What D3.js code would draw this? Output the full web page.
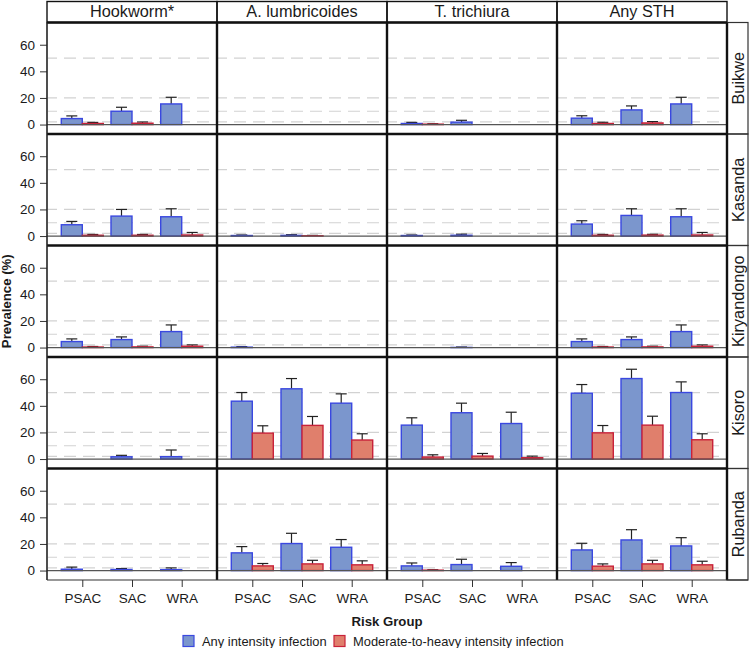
<!DOCTYPE html>
<html>
<head>
<meta charset="utf-8">
<script src="https://cdnjs.cloudflare.com/ajax/libs/d3/7.8.5/d3.min.js"></script>
<style>
  html, body { margin: 0; padding: 0; background: #fff; }
  svg { display: block; }
  text { font-family: "Liberation Sans", Arial, sans-serif; fill: #1a1a1a; }
</style>
</head>
<body>
<svg id="chart" width="750" height="648"></svg>
<script>
var species = ['Hookworm*', 'A. lumbricoides', 'T. trichiura', 'Any STH'];
var districts = ['Buikwe', 'Kasanda', 'Kiryandongo', 'Kisoro', 'Rubanda'];
var groups = ['PSAC', 'SAC', 'WRA'];
var seriesNames = ['Any intensity infection', 'Moderate-to-heavy intensity infection'];
var yTicks = [0, 20, 40, 60];
var refLines = [2, 10, 20, 50];

// all four indexed [district][species][group], null = no bar drawn
var anyPrev = [
  [[4.5, 10, 15.5], [null, null, null], [0.8, 1.8, null], [4.8, 11, 15.5]],
  [[8.5, 15, 14.5], [0.4, 0.5, null], [0.4, 0.6, null], [9, 15.5, 14.5]],
  [[4.5, 6, 12], [0.3, null, null], [null, 0.1, null], [4.5, 6, 12]],
  [[null, 1.7, 1.8], [43.5, 52.8, 42], [25.5, 34.8, 26.7], [49.5, 60.5, 50]],
  [[1, 0.8, 0.7], [13.3, 20.3, 17.5], [3.5, 4.5, 3.2], [15.5, 23, 18.5]]
];
var anyUpper = [
  [[6.5, 13, 20.5], [null, null, null], [1.6, 3.2, null], [6.6, 14, 20.5]],
  [[11, 20, 20.5], [0.8, 1, null], [0.8, 1.4, null], [11.5, 20.5, 20.5]],
  [[6.5, 8, 17], [0.7, null, null], [null, 0.4, null], [6.5, 8, 17]],
  [[null, 2.8, 6.8], [50, 60.5, 49], [31, 42, 35.2], [56, 67.5, 58]],
  [[2.6, 1.5, 2], [18, 28, 23.3], [5.7, 8.5, 6], [20.5, 30.7, 24.7]]
];
var modPrev = [
  [[0.8, 1, null], [null, null, null], [0.3, null, null], [0.8, 1.2, null]],
  [[0.6, 0.6, 0.8], [null, 0.2, null], [null, null, null], [0.6, 0.7, 0.8]],
  [[0.4, 0.5, 1], [null, null, null], [null, null, null], [0.4, 0.5, 1]],
  [[null, null, null], [19.5, 25.3, 14.3], [1.5, 2.2, 1], [19.7, 25.5, 14.5]],
  [[null, null, null], [3.5, 5, 4.3], [0.3, null, null], [3.3, 5, 4.3]]
];
var modUpper = [
  [[1.6, 1.9, null], [null, null, null], [0.6, null, null], [1.7, 2.2, null]],
  [[1.2, 1.2, 2.7], [null, 0.5, null], [null, null, null], [1.2, 1.3, 2.7]],
  [[0.8, 1, 2], [null, null, null], [null, null, null], [0.8, 1, 2]],
  [[null, null, null], [25, 32, 19], [3.2, 4.2, 2.2], [25.2, 32.2, 19]],
  [[null, null, null], [5.3, 7.7, 7.3], [0.6, null, null], [5, 7.7, 7]]
];

var colors = ['#7b96cd', '#e07f6c'];
var strokes = ['#3a48e0', '#c8223a'];

var svg = d3.select('#chart');

var plotLeft = 47, plotRight = 727, plotTop = 22.5, rowH = 111.5;
var stripTop = 1.5, stripRight = 748;
var colW = (plotRight - plotLeft) / species.length;
var plotBottom = plotTop + rowH * districts.length;

var col = d3.scaleBand().domain(species).range([plotLeft, plotRight]);
var row = d3.scaleBand().domain(districts).range([plotTop, plotBottom]);
var y = d3.scaleLinear().domain([-7.1, 76.7]).range([rowH, 0]);
var x = d3.scalePoint().domain(groups).range([0, colW]).padding(0.71);
var sub = d3.scaleBand().domain([0, 1]).range([-21, 21]);

// panels
districts.forEach(function(district, r) {
  species.forEach(function(sp, c) {
    var g = svg.append('g')
      .attr('transform', 'translate(' + col(sp) + ',' + row(district) + ')');

    g.selectAll('line.ref')
      .data(refLines)
      .enter().append('line')
      .attr('class', 'ref')
      .attr('x1', 1).attr('x2', colW - 7)
      .attr('y1', y).attr('y2', y)
      .attr('stroke', '#d2d2d2')
      .attr('stroke-width', 1.2)
      .attr('stroke-dasharray', '12,7')
      .attr('stroke-dashoffset', 3);

    [anyPrev, modPrev].forEach(function(values, s) {
      var upper = s === 0 ? anyUpper : modUpper;
      groups.forEach(function(group, i) {
        var v = values[r][c][i];
        if (v === null) return;
        var bx = x(group) + sub(s);
        var cx = bx + sub.bandwidth() / 2;
        var hi = upper[r][c][i];

        g.append('line')
          .attr('x1', cx).attr('x2', cx)
          .attr('y1', y(v)).attr('y2', y(hi))
          .attr('stroke', '#222').attr('stroke-width', 1.2);
        g.append('line')
          .attr('x1', cx - 5.5).attr('x2', cx + 5.5)
          .attr('y1', y(hi)).attr('y2', y(hi))
          .attr('stroke', '#222').attr('stroke-width', 1.2);

        g.append('rect')
          .attr('x', bx)
          .attr('y', y(v))
          .attr('width', sub.bandwidth())
          .attr('height', y(0) - y(v))
          .attr('fill', colors[s])
          .attr('stroke', strokes[s])
          .attr('stroke-width', 1.4);
      });
    });

    g.append('line')
      .attr('x1', 0).attr('x2', colW)
      .attr('y1', y(0)).attr('y2', y(0))
      .attr('stroke', '#555')
      .attr('stroke-width', 1.2);

    if (c === 0) {
      var ay = g.append('g').call(d3.axisLeft(y).tickValues(yTicks).tickSize(7).tickPadding(5));
      ay.select('.domain').remove();
      ay.selectAll('line').attr('stroke', '#333').attr('stroke-width', 1);
      ay.selectAll('text').style('font-size', '13.5px').style('font-family', '"Liberation Sans"');
    }
    if (r === districts.length - 1) {
      var ax = g.append('g')
        .attr('transform', 'translate(0,' + rowH + ')')
        .call(d3.axisBottom(x).tickSize(7).tickPadding(6));
      ax.select('.domain').remove();
      ax.selectAll('line').attr('stroke', '#333').attr('stroke-width', 1);
      ax.selectAll('text').style('font-size', '13.5px').style('font-family', '"Liberation Sans"');
    }
  });
});

// frame: strips and panel borders
species.forEach(function(sp) {
  svg.append('rect')
    .attr('x', col(sp)).attr('y', stripTop)
    .attr('width', colW).attr('height', plotTop - stripTop)
    .attr('fill', 'none').attr('stroke', '#111').attr('stroke-width', 1.4);
  svg.append('text')
    .attr('x', col(sp) + colW / 2).attr('y', 17)
    .attr('text-anchor', 'middle')
    .style('font-size', '16.3px')
    .text(sp);
});

districts.forEach(function(district) {
  svg.append('rect')
    .attr('x', plotRight).attr('y', row(district))
    .attr('width', stripRight - plotRight).attr('height', rowH)
    .attr('fill', 'none').attr('stroke', '#333').attr('stroke-width', 1.2);
  svg.append('text')
    .attr('transform', 'translate(' + (plotRight + 17) + ',' + (row(district) + rowH / 2) + ') rotate(-90)')
    .attr('text-anchor', 'middle')
    .style('font-size', '16.3px')
    .text(district);
});

svg.selectAll('line.hdiv')
  .data(districts)
  .enter().append('line')
  .attr('class', 'hdiv')
  .attr('x1', plotLeft).attr('x2', plotRight)
  .attr('y1', function(d) { return row(d); })
  .attr('y2', function(d) { return row(d); })
  .attr('stroke', '#111').attr('stroke-width', 2.4);

svg.selectAll('line.vdiv')
  .data(species.slice(1).concat(['end']))
  .enter().append('line')
  .attr('class', 'vdiv')
  .attr('x1', function(d) { return d === 'end' ? plotRight : col(d); })
  .attr('x2', function(d) { return d === 'end' ? plotRight : col(d); })
  .attr('y1', plotTop).attr('y2', plotBottom)
  .attr('stroke', '#111').attr('stroke-width', 2.4);

svg.append('line')
  .attr('x1', plotLeft).attr('x2', plotLeft)
  .attr('y1', plotTop).attr('y2', plotBottom)
  .attr('stroke', '#222').attr('stroke-width', 1.6);
svg.append('line')
  .attr('x1', plotLeft).attr('x2', stripRight)
  .attr('y1', plotBottom).attr('y2', plotBottom)
  .attr('stroke', '#333').attr('stroke-width', 1.2);

// axis titles
svg.append('text')
  .attr('transform', 'translate(11,' + (plotTop + plotBottom) / 2 + ') rotate(-90)')
  .attr('text-anchor', 'middle')
  .style('font-size', '13.2px').style('font-weight', 'bold')
  .text('Prevalence (%)');
svg.append('text')
  .attr('x', (plotLeft + plotRight) / 2).attr('y', 626)
  .attr('text-anchor', 'middle')
  .style('font-size', '13.2px').style('font-weight', 'bold')
  .text('Risk Group');

// legend
var legend = svg.append('g').attr('transform', 'translate(183,635.5)');
var legendX = [0, 151];
seriesNames.forEach(function(name, i) {
  var item = legend.append('g').attr('transform', 'translate(' + legendX[i] + ',0)');
  item.append('rect')
    .attr('width', 11).attr('height', 11)
    .attr('fill', colors[i]).attr('stroke', strokes[i]).attr('stroke-width', 1.2);
  item.append('text')
    .attr('x', 19).attr('y', 10)
    .style('font-size', '12.9px')
    .text(name);
});
</script>
</body>
</html>
